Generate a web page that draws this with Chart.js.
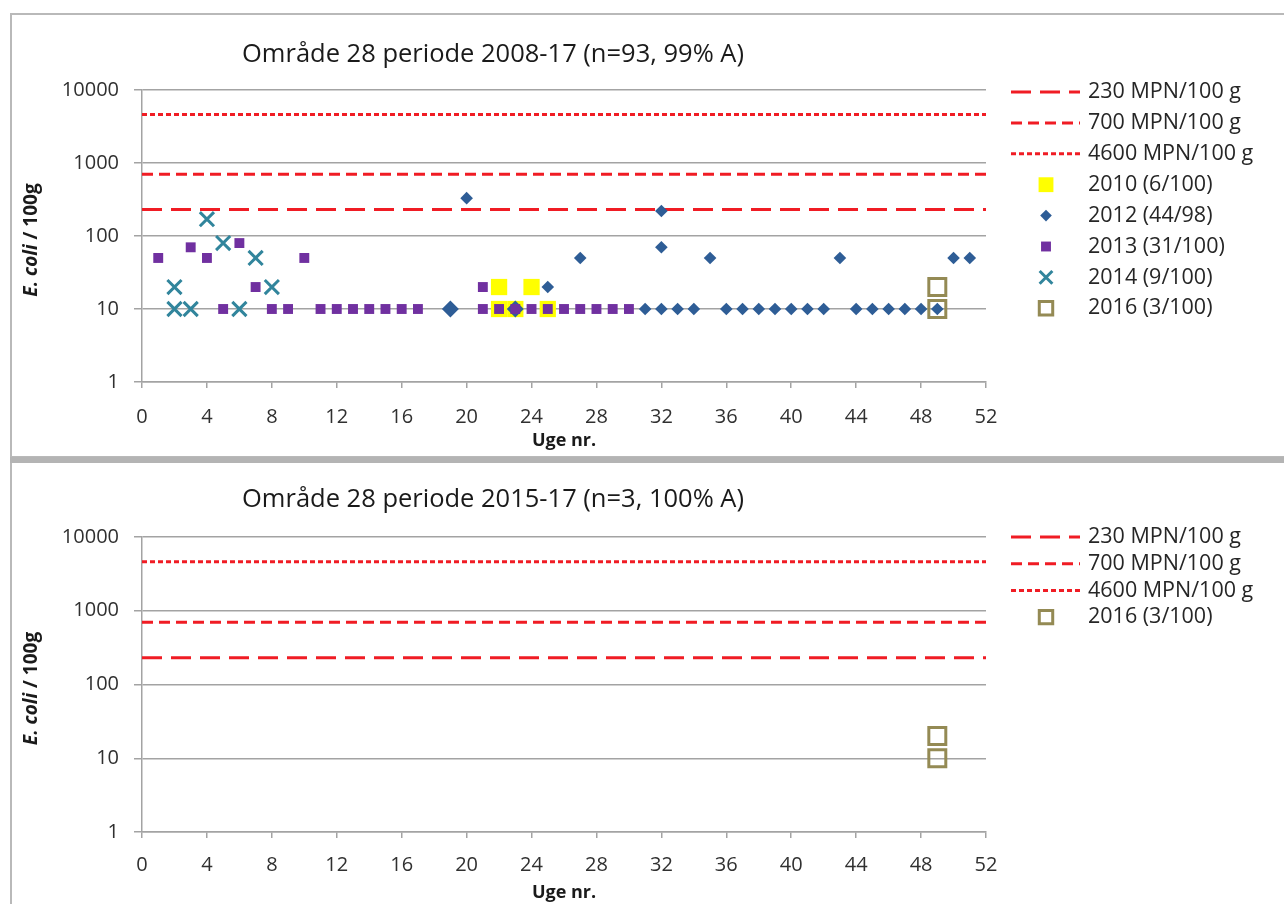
<!DOCTYPE html>
<html>
<head>
<meta charset="utf-8">
<script src="https://cdn.jsdelivr.net/npm/chart.js@4.4.1/dist/chart.umd.min.js"></script>
<style>
  html, body { margin: 0; padding: 0; background: #fff; width: 1284px; height: 904px; overflow: hidden; }
  .frame { position: absolute; box-sizing: border-box; }
  #frameTop { left: 10px; top: 13px; width: 1300px; height: 445px; border: 2px solid #b9b9b9; border-right: none; }
  #bar { left: 10px; top: 457px; width: 1300px; height: 6px; background: #b4b4b4; }
  #frameBottom { left: 10px; top: 463px; width: 1300px; height: 460px; border-left: 2px solid #b9b9b9; }
  canvas { position: absolute; left: 0; }
</style>
</head>
<body>
<div class="frame" id="frameTop"></div>
<div class="frame" id="bar"></div>
<div class="frame" id="frameBottom"></div>
<canvas id="chartTop" width="1284" height="456" style="top:0"></canvas>
<canvas id="chartBottom" width="1284" height="442" style="top:462px"></canvas>
<script>
// axis ranges / ticks
const weekMin = 0;
const weekMax = 52;
const weekStep = 4;
const yTickValues = [1, 10, 100, 1000, 10000];

// limit lines
const limitLabels = ['230 MPN/100 g', '700 MPN/100 g', '4600 MPN/100 g'];
const limitValues = [230, 700, 4600];

// samples per year (week no., E. coli / 100g)
const weeks2010 = [22, 24, 22, 23, 25];
const values2010 = [20, 20, 10, 10, 10];

const weeks2012 = [20, 32, 32, 27, 35, 43, 50, 51, 25, 31, 32, 33, 34, 36, 37, 38, 39, 40, 41, 42, 44, 45, 46, 47, 48, 49];
const values2012 = [330, 220, 70, 50, 50, 50, 50, 50, 20, 10, 10, 10, 10, 10, 10, 10, 10, 10, 10, 10, 10, 10, 10, 10, 10, 10];

// the two bigger diamonds (no legend entry)
const weeksExtra = [19, 23];
const valuesExtra = [10, 10];

const weeks2013 = [1, 3, 4, 6, 10, 7, 21, 5, 8, 9, 11, 12, 13, 14, 15, 16, 17, 21, 22, 23, 24, 25, 26, 27, 28, 29, 30];
const values2013 = [50, 70, 50, 80, 50, 20, 20, 10, 10, 10, 10, 10, 10, 10, 10, 10, 10, 10, 10, 10, 10, 10, 10, 10, 10, 10, 10];

const weeks2014 = [2, 4, 5, 7, 8, 2, 3, 6];
const values2014 = [20, 170, 80, 50, 20, 10, 10, 10];

const weeks2016 = [49, 49];
const values2016 = [20, 10];

const fontFamily = '"Open Sans", sans-serif';
const red = 'rgb(240, 28, 36)';
const limitDashes = [[20, 9], [11, 6], [5, 3]];
const gridColor = '#a3a3a3';

function points(weeks, values) {
    return weeks.map((w, i) => ({ x: w, y: values[i] }));
}

function limitDatasets() {
    return limitValues.map((v, i) => ({
        label: limitLabels[i],
        data: [{ x: weekMin, y: v }, { x: weekMax, y: v }],
        showLine: true,
        borderColor: red,
        borderWidth: 3,
        borderDash: limitDashes[i],
        pointRadius: 0,
        order: 20
    }));
}

function markerDataset(label, weeks, values, style) {
    return {
        label: label,
        data: points(weeks, values),
        showLine: false,
        pointStyle: style.pointStyle,
        pointRadius: style.radius,
        pointBorderWidth: style.borderWidth || 0,
        borderWidth: style.borderWidth || 0,
        backgroundColor: style.fill,
        borderColor: style.stroke || style.fill,
        pointBackgroundColor: style.fill,
        pointBorderColor: style.stroke || style.fill,
        legendRadius: style.legendRadius,
        order: style.order
    };
}

const style2010 = { pointStyle: 'rect', radius: 11.5, legendRadius: 10.5, fill: '#ffff00', order: 6 };
const style2012 = { pointStyle: 'rectRot', radius: 6.3, legendRadius: 5.8, fill: '#2e5d96', order: 4 };
const styleExtra = { pointStyle: 'rectRot', radius: 8.5, fill: '#2e5d96', order: 5 };
const style2013 = { pointStyle: 'rect', radius: 7, legendRadius: 7, fill: '#7030a0', order: 3 };
const style2014 = { pointStyle: 'crossRot', radius: 10, legendRadius: 9, fill: '#31859c', stroke: '#31859c', borderWidth: 3, order: 2 };
const style2016 = { pointStyle: 'rect', radius: 12, legendRadius: 9.5, fill: 'rgba(0,0,0,0)', stroke: '#948a54', borderWidth: 3, order: 1 };

// legend drawn at the right, next to the plot
const sideLegend = {
    id: 'sideLegend',
    afterDraw(chart, args, opts) {
        const ctx = chart.ctx;
        ctx.save();
        let y = opts.top;
        chart.data.datasets.forEach(ds => {
            if (!ds.label) return;
            if (ds.showLine) {
                ctx.setLineDash(ds.borderDash);
                ctx.lineWidth = ds.borderWidth;
                ctx.strokeStyle = ds.borderColor;
                ctx.beginPath();
                ctx.moveTo(opts.lineFrom, y);
                ctx.lineTo(opts.lineTo, y);
                ctx.stroke();
            } else {
                ctx.setLineDash([]);
                ctx.fillStyle = ds.pointBackgroundColor;
                ctx.strokeStyle = ds.pointBorderColor;
                ctx.lineWidth = ds.pointBorderWidth;
                Chart.helpers.drawPoint(ctx, {
                    pointStyle: ds.pointStyle,
                    radius: ds.legendRadius,
                    borderWidth: ds.pointBorderWidth,
                    rotation: 0
                }, opts.markerX, y);
            }
            ctx.setLineDash([]);
            ctx.fillStyle = '#262626';
            ctx.font = '21.5px ' + fontFamily;
            ctx.textAlign = 'left';
            ctx.textBaseline = 'middle';
            ctx.fillText(ds.label, opts.textX, y);
            y += opts.rowGap;
        });
        ctx.restore();
    }
};

// y axis title with italic "E. coli"
const yTitle = {
    id: 'yTitle',
    afterDraw(chart, args, opts) {
        const ctx = chart.ctx;
        const a = chart.chartArea;
        const part1 = 'E. coli';
        const part2 = ' / 100g';
        ctx.save();
        ctx.translate(opts.x, (a.top + a.bottom) / 2 + opts.shift);
        ctx.rotate(-Math.PI / 2);
        ctx.fillStyle = '#1a1a1a';
        ctx.textBaseline = 'middle';
        ctx.textAlign = 'left';
        ctx.font = 'italic bold 19px ' + fontFamily;
        const w1 = ctx.measureText(part1).width;
        ctx.font = 'bold 19px ' + fontFamily;
        const w2 = ctx.measureText(part2).width;
        const x0 = -(w1 + w2) / 2;
        ctx.font = 'italic bold 19px ' + fontFamily;
        ctx.fillText(part1, x0, 0);
        ctx.font = 'bold 19px ' + fontFamily;
        ctx.fillText(part2, x0 + w1, 0);
        ctx.restore();
    }
};

function makeChart(canvasId, p) {
    return new Chart(document.getElementById(canvasId), {
        type: 'scatter',
        data: { datasets: p.datasets },
        plugins: [sideLegend, yTitle],
        options: {
            responsive: false,
            animation: false,
            layout: { padding: { left: 0, right: 298, top: 0, bottom: 0 } },
            plugins: {
                legend: { display: false },
                tooltip: { enabled: false },
                title: {
                    display: true,
                    text: p.title,
                    color: '#1a1a1a',
                    font: { family: fontFamily, size: 25.5, weight: 'normal' },
                    padding: p.titlePadding
                },
                sideLegend: p.legend,
                yTitle: { x: 32, shift: p.yTitleShift }
            },
            scales: {
                x: {
                    type: 'linear',
                    min: weekMin,
                    max: weekMax,
                    ticks: {
                        stepSize: weekStep,
                        color: '#303030',
                        font: { family: fontFamily, size: 20 },
                        padding: p.xTickPad,
                        maxRotation: 0
                    },
                    grid: { drawOnChartArea: false, drawTicks: true, tickLength: 6, color: gridColor, lineWidth: 1.5 },
                    border: { display: true, color: gridColor, width: 1.5 },
                    title: {
                        display: true,
                        text: 'Uge nr.',
                        color: '#1a1a1a',
                        font: { family: fontFamily, size: 18, weight: 'bold' },
                        padding: { top: 0, bottom: p.xTitlePad }
                    },
                    afterFit: s => { s.height = p.xHeight; }
                },
                y: {
                    type: 'logarithmic',
                    min: yTickValues[0],
                    max: yTickValues[yTickValues.length - 1],
                    afterBuildTicks: s => { s.ticks = yTickValues.map(v => ({ value: v })); },
                    ticks: {
                        color: '#303030',
                        font: { family: fontFamily, size: 20 },
                        padding: 15,
                        callback: v => String(v)
                    },
                    grid: { color: gridColor, lineWidth: 1.5, tickLength: 8 },
                    border: { display: true, color: gridColor, width: 1.5 },
                    afterFit: s => { s.width = 142; }
                }
            }
        }
    });
}

makeChart('chartTop', {
    title: 'Område 28 periode 2008-17 (n=93, 99% A)',
    titlePadding: { top: 39.7, bottom: 19.7 },
    xHeight: 74,
    xTickPad: 17,
    xTitlePad: 4.2,
    yTitleShift: 4,
    legend: { top: 92, rowGap: 30.9, lineFrom: 1011, lineTo: 1080, markerX: 1046, textX: 1088 },
    datasets: [
        ...limitDatasets(),
        markerDataset('2010 (6/100)', weeks2010, values2010, style2010),
        markerDataset('2012 (44/98)', weeks2012, values2012, style2012),
        markerDataset('2013 (31/100)', weeks2013, values2013, style2013),
        markerDataset('2014 (9/100)', weeks2014, values2014, style2014),
        markerDataset('2016 (3/100)', weeks2016, values2016, style2016),
        markerDataset('', weeksExtra, valuesExtra, styleExtra)
    ]
});

makeChart('chartBottom', {
    title: 'Område 28 periode 2015-17 (n=3, 100% A)',
    titlePadding: { top: 22.7, bottom: 21.7 },
    xHeight: 72,
    xTickPad: 15,
    xTitlePad: 0.2,
    yTitleShift: 4,
    legend: { top: 75, rowGap: 26.7, lineFrom: 1011, lineTo: 1080, markerX: 1046, textX: 1088 },
    datasets: [
        ...limitDatasets(),
        markerDataset('2016 (3/100)', weeks2016, values2016, style2016)
    ]
});
</script>
</body>
</html>
